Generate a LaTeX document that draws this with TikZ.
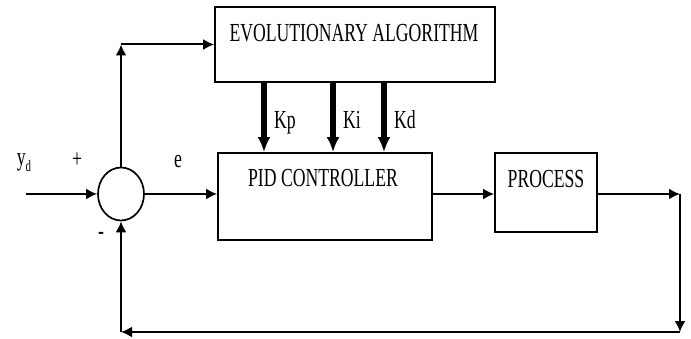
\documentclass[tikz,border=0pt]{standalone}
\usepackage{fontspec}
\newfontfamily\diagfont[FakeStretch=0.68]{Liberation Serif}
\usetikzlibrary{arrows.meta,shapes.geometric}

\begin{document}
\begin{tikzpicture}[x=1pt,y=-1pt]
        \tikzset{box style/.style={draw, line width=1.7pt, rectangle, inner sep=0pt}}
        \tikzset{text style/.style={inner sep=0pt, font=\diagfont\fontsize{26}{28}\selectfont}}
        \tikzset{line style/.style={line width=2pt, -{Latex[length=11pt,width=11pt]}}}
        \tikzset{gain style/.style={line width=6pt, -{Latex[length=15pt,width=13pt]}}}

        \useasboundingbox (0,0) rectangle (691,339);

        % blocks
        \node[box style, minimum width=280pt, minimum height=75pt] (ea) at (355,44.5) {};
        \node[box style, minimum width=214pt, minimum height=87pt] (pid) at (325,196.5) {};
        \node[box style, minimum width=102pt, minimum height=79pt] (process) at (546,192.5) {};
        \node[draw, line width=1.7pt, ellipse, minimum width=46pt, minimum height=53pt, inner sep=0pt] (sum) at (121,194) {};

        \node[text style, anchor=base] (ea text) at (354,42) {EVOLUTIONARY ALGORITHM};
        \node[text style, anchor=base] (pid text) at (323,187) {PID CONTROLLER};
        \node[text style, anchor=base] (process text) at (546,188) {PROCESS};

        % signs
        \node[text style, anchor=base] (yd) at (24,166) {y\raisebox{-6pt}{\fontsize{16}{17}\selectfont d}};
        \node[text style] (plus) at (77,160) {+};
        \node[text style] (minus) at (101,236) {-};
        \node[text style, anchor=base] (e) at (178,168) {e};

        % signal lines
        \coordinate (yd in) at (26,194);
        \coordinate (top left) at (sum.north |- ea.west);
        \coordinate (out) at (sum -| 680,0);
        \coordinate (bottom right) at (680,332);
        \coordinate (bottom left) at (sum |- bottom right);

        \draw[line style] (yd in) -- (sum);
        \draw[line style] (sum) -- (sum -| pid.west);
        \draw[line style] (pid.east |- sum) -- (process.west |- sum);
        \draw[line style] (process.east |- out) -- (out);
        \draw[line style] (out) -- (bottom right);
        \draw[line style] (bottom right) -- (bottom left);
        \draw[line style] (bottom left) -- (sum);
        \draw[line style] (sum) -- (top left);
        \draw[line style] (top left) -- (ea.west);

        % gains
        \foreach \x/\k in {264/Kp,333/Ki,384/Kd}{
            \draw[gain style] (ea.south -| \x,0) -- (pid.north -| \x,0);
            \node[text style, anchor=base west] (\k) at (\x+10,129) {\k};
        }
    \end{tikzpicture}
\end{document}
